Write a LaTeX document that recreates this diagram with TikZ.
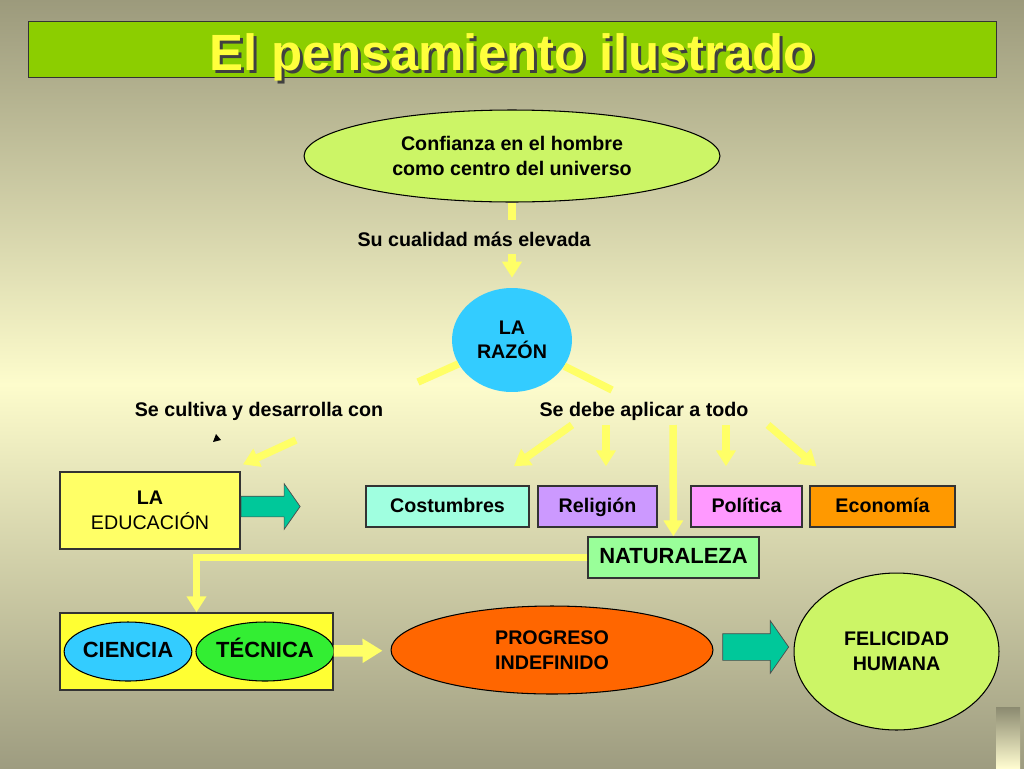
\documentclass[tikz,border=0pt]{standalone}
\usepackage{fontspec}
\setmainfont{Liberation Sans}
\usetikzlibrary{arrows.meta,calc,positioning,shapes.geometric,shapes.arrows}
\definecolor{bgtop}{RGB}{156,154,124}
\definecolor{bgmid}{RGB}{253,252,204}
\definecolor{bgbot}{RGB}{158,156,128}
\definecolor{titlegreen}{RGB}{140,206,0}
\definecolor{titleyellow}{RGB}{255,255,60}
\definecolor{lima}{RGB}{204,245,102}
\definecolor{cielo}{RGB}{51,204,255}
\definecolor{lineyellow}{RGB}{255,255,102}
\definecolor{boxyellow}{RGB}{255,255,102}
\definecolor{brightyellow}{RGB}{255,255,51}
\definecolor{verdeazul}{RGB}{0,200,154}
\definecolor{aguamarina}{RGB}{160,255,224}
\definecolor{lila}{RGB}{204,153,255}
\definecolor{rosa}{RGB}{255,153,255}
\definecolor{naranja}{RGB}{255,153,0}
\definecolor{menta}{RGB}{153,255,153}
\definecolor{hoja}{RGB}{51,238,51}
\definecolor{fuego}{RGB}{255,102,0}
\definecolor{barfoot}{RGB}{139,138,112}
\definecolor{barpale}{RGB}{255,252,208}

\begin{document}
\begin{tikzpicture}[x=0.02cm,y=-0.02cm,
  txt/.style={font=\fontsize{11.2}{14}\selectfont\bfseries,align=center},
  big/.style={font=\fontsize{12.5}{15}\selectfont\bfseries},
  oneline/.style={text height=9pt,text depth=2.5pt},
  box/.style={draw=black!80,line width=0.8pt,rectangle,minimum height=0.82cm,txt},
  oval/.style={ellipse,draw=black,line width=0.6pt,inner sep=0pt,txt},
  yline/.style={color=lineyellow,line width=0.15cm},
  yarrow/.style={yline,-{Triangle[width=0.38cm,length=0.32cm]}},
  blockarrow/.style={single arrow,draw=black!70,fill=verdeazul,inner xsep=0pt,single arrow tip angle=110}]
\shade[top color=bgtop,bottom color=bgbot,middle color=bgmid] (0,0) rectangle (1024,768);
\useasboundingbox (0,0) rectangle (1024,768);
\shade[top color=barfoot,bottom color=barpale] (996,707) rectangle (1020,768);
% title
\node[draw=black!80,fill=titlegreen,minimum width=19.36cm,minimum height=1.12cm] (T) at (512,49) {};
\node[anchor=base,text=black!75,font=\fontsize{29}{30}\selectfont\bfseries] (TS) at (515,73) {El pensamiento ilustrado};
\node[anchor=base,text=titleyellow,font=\fontsize{29}{30}\selectfont\bfseries] (TT) at (512,70) {El pensamiento ilustrado};
% nodes
\node[oval,fill=lima,minimum width=8.32cm,minimum height=1.84cm] (C) at (512,156) {Confianza en el hombre\\como centro del universo};
\node[txt,anchor=base] (S1) at (474,246) {Su cualidad más elevada};
\node[ellipse,fill=cielo,inner sep=0pt,minimum width=2.4cm,minimum height=2.08cm,txt] (R) at (512,340) {LA\\RAZÓN};
\node[txt,anchor=base] (S2) at (259,416) {Se cultiva y desarrolla con};
\node[txt,anchor=base] (S3) at (644,416) {Se debe aplicar a todo};
\node[box,fill=boxyellow,minimum width=3.6cm,minimum height=1.54cm,font=\fontsize{11.2}{14}\selectfont\mdseries] (E) at (150,510.5) {\textbf{LA}\\EDUCACIÓN};
\node[blockarrow,minimum height=1.18cm,inner ysep=0.2cm,single arrow head extend=0.25cm] (A1) at (267,506.5) {};
\node[box,oneline,fill=aguamarina,minimum width=3.26cm] (K1) at (447.5,506.5) {Costumbres};
\node[box,oneline,fill=lila,minimum width=2.38cm] (K2) at (597.5,506.5) {Religión};
\node[box,oneline,fill=rosa,minimum width=2.22cm] (K3) at (746.5,506.5) {Política};
\node[box,oneline,fill=naranja,minimum width=2.9cm] (K4) at (882.5,506.5) {Economía};
\node[box,big,oneline,fill=menta,minimum width=3.42cm] (N) at (673.5,557.5) {NATURALEZA};
\node[box,fill=brightyellow,minimum width=5.46cm,minimum height=1.54cm] (B) at (196.5,651.5) {};
\node[oval,big,oneline,fill=cielo,minimum width=2.4cm,minimum height=1.18cm] (CI) at (128,651.5) {CIENCIA};
\node[oval,big,oneline,fill=hoja,minimum width=2.4cm,minimum height=1.18cm] (TE) at (265,651.5) {TÉCNICA};
\node[oval,fill=fuego,minimum width=6.44cm,minimum height=1.76cm] (P) at (552,650) {PROGRESO\\INDEFINIDO};
\node[blockarrow,minimum height=1.32cm,inner ysep=0.26cm,single arrow head extend=0.26cm] (A2) at (751,647) {};
\node[oval,fill=lima,minimum width=4.1cm,minimum height=3.14cm] (F) at (896.5,651.5) {FELICIDAD\\HUMANA};
% free ends
\coordinate (c1) at (512,220);
\coordinate (c2) at (512,254);
\coordinate (r1) at (418,382);
\coordinate (r2) at (612,390);
\coordinate (e1) at (296,440);
\coordinate (a1) at (572,425);
\coordinate (a2) at (606,425);
\coordinate (a3) at (673,425);
\coordinate (a4) at (726,425);
\coordinate (a5) at (768,425);
\fill (213,442) -- (216,434) -- (221,440) -- cycle;
\path[yline]
(C) edge (c1)
(R) edge (r1)
(R) edge (r2);
\path[yarrow]
(c2) edge[shorten >=0.2cm] (R)
(e1) edge[shorten >=0.33cm] ($(E.north west)!0.93!(E.north east)$)
(a1) edge[shorten >=0.66cm] ($(K1.north west)!0.74!(K1.north east)$)
(a2) edge[shorten >=0.38cm] (a2 |- K2.north)
(a3) edge (N)
(a4) edge[shorten >=0.38cm] (a4 |- K3.north)
(a5) edge[shorten >=0.58cm] ($(K4.north west)!0.2!(K4.north east)$)
(B) edge[line width=0.23cm,-{Triangle[width=0.46cm,length=0.4cm]},shorten >=0.16cm] (P);
\draw[yarrow] (N) -| (B);
\end{tikzpicture}
\end{document}
